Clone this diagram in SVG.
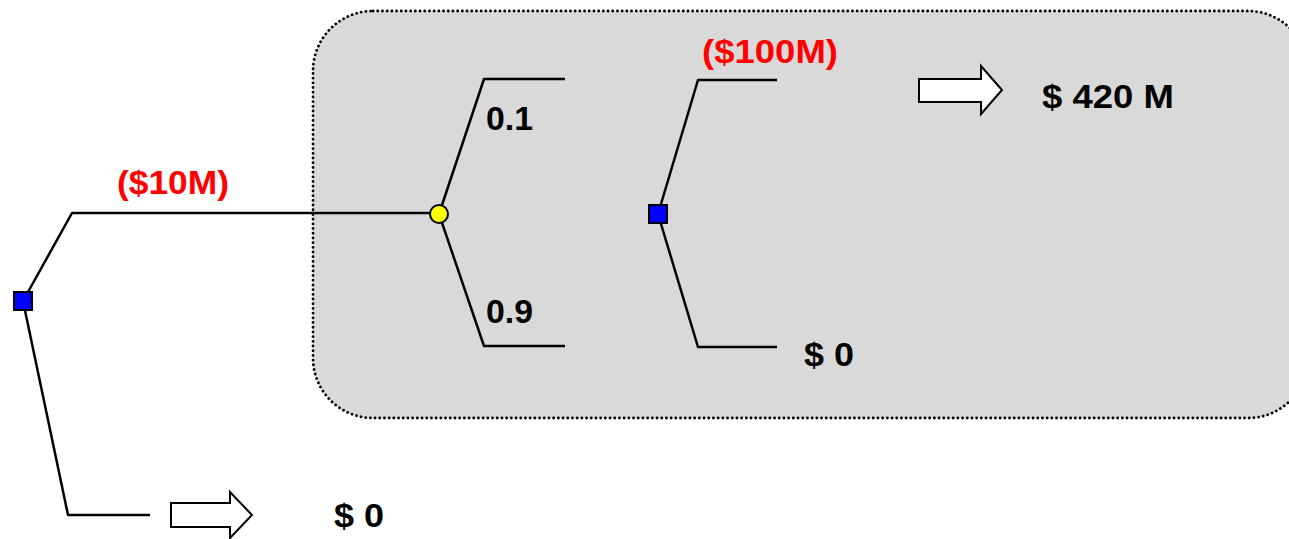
<svg xmlns="http://www.w3.org/2000/svg" width="1289" height="539" viewBox="0 0 1289 539">
<style>
.ln{fill:none;stroke:#000;stroke-width:2.5;stroke-linejoin:round}
.dec{fill:#0000ff;stroke:#000;stroke-width:2}
.chance{fill:#ffff00;stroke:#000;stroke-width:2}
.arr{fill:#fff;stroke:#000;stroke-width:2}
.t{font-family:"Liberation Sans",Arial,sans-serif;font-weight:bold;font-size:33px;fill:#000}
.r{fill:#ff0000}
</style>
<rect id="region" x="313" y="11" width="995" height="407" rx="60" ry="60" fill="#d9d9d9" stroke="#000" stroke-width="2.8" stroke-dasharray="0.1 4.6" stroke-linecap="round"/>
<g id="connectors">
<polyline class="ln" points="23,301 72,213 439,213"/>
<polyline class="ln" points="23,301 68,515 150,515"/>
<polyline class="ln" points="439,214 484,79 565,79"/>
<polyline class="ln" points="439,214 484,346 565,346"/>
<polyline class="ln" points="658,214 698,80 777,80"/>
<polyline class="ln" points="658,214 698,347 777,347"/>
</g>
<g id="decision1"><rect class="dec" x="14" y="292" width="18" height="18"/></g>
<g id="chance1"><circle class="chance" cx="439" cy="214" r="9"/></g>
<g id="decision2"><rect class="dec" x="649" y="205" width="18" height="18"/></g>
<g id="arrow1"><polygon class="arr" points="919,79 981,79 981,66 1002,90 981,114 981,102 919,102"/></g>
<g id="arrow2"><polygon class="arr" points="171,503 230,503 230,492 252,515 230,538 230,527 171,527"/></g>
<g id="labels">
<text class="t r" x="117" y="194" textLength="112" lengthAdjust="spacingAndGlyphs">($10M)</text>
<text class="t r" x="702" y="63" textLength="136" lengthAdjust="spacingAndGlyphs">($100M)</text>
<text class="t" x="486" y="130" font-size="34" textLength="47" lengthAdjust="spacingAndGlyphs">0.1</text>
<text class="t" x="486" y="323" font-size="34" textLength="47" lengthAdjust="spacingAndGlyphs">0.9</text>
<text class="t" x="804" y="366" textLength="50" lengthAdjust="spacingAndGlyphs">$ 0</text>
<text class="t" x="1042" y="108" textLength="132" lengthAdjust="spacingAndGlyphs">$ 420 M</text>
<text class="t" x="334" y="527" textLength="50" lengthAdjust="spacingAndGlyphs">$ 0</text>
</g>
</svg>
